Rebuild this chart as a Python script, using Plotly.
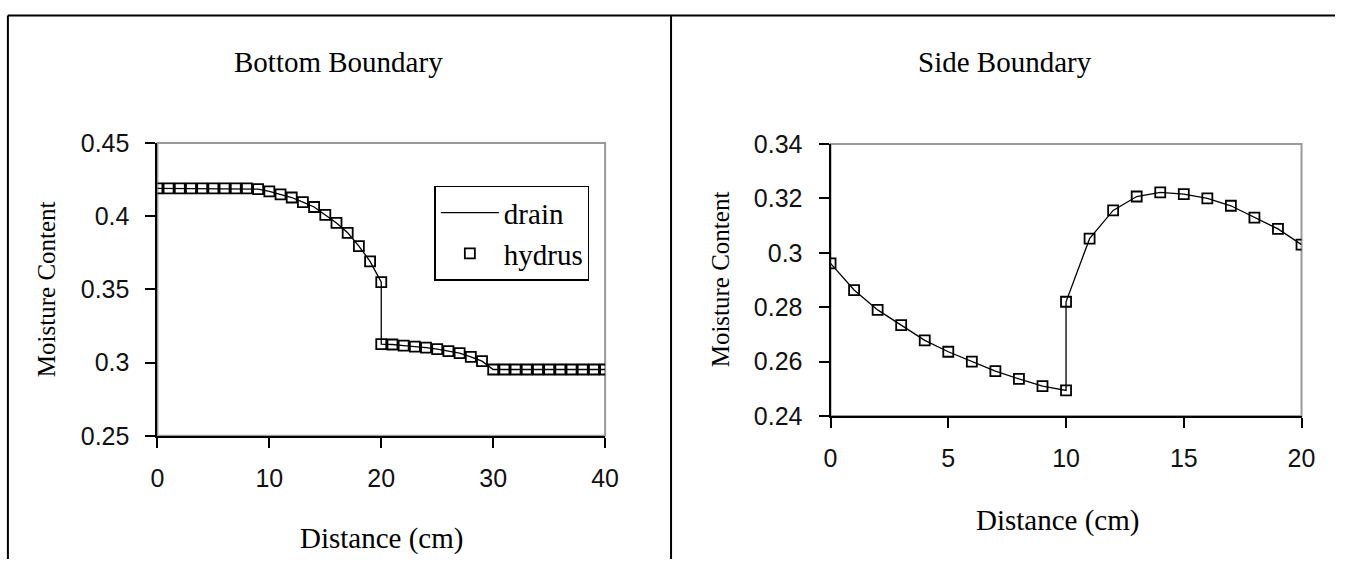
import plotly.graph_objects as go

# ---- data ----
bottom_x = [0, 1, 2, 3, 4, 5, 6, 7, 8, 9, 10, 11, 12, 13, 14, 15, 16, 17, 18, 19, 20,
            20, 21, 22, 23, 24, 25, 26, 27, 28, 29, 30, 31, 32, 33, 34, 35, 36, 37, 38, 39, 40]
bottom_y = [0.419, 0.419, 0.419, 0.419, 0.419, 0.419, 0.419, 0.419, 0.419, 0.4185, 0.417,
            0.415, 0.4128, 0.4097, 0.4063, 0.4009, 0.3954, 0.3887, 0.3796, 0.3692, 0.355,
            0.3126, 0.3124, 0.3116, 0.311, 0.3103, 0.3092, 0.3078, 0.3065, 0.304, 0.301,
            0.2953, 0.2953, 0.2953, 0.2953, 0.2953, 0.2953, 0.2953, 0.2953, 0.2953, 0.2953, 0.2953]

side_x = [0, 1, 2, 3, 4, 5, 6, 7, 8, 9, 10, 10, 11, 12, 13, 14, 15, 16, 17, 18, 19, 20]
side_y = [0.2961, 0.2863, 0.279, 0.2734, 0.2678, 0.2636, 0.26, 0.2565, 0.2536, 0.251, 0.2494,
          0.282, 0.3052, 0.3156, 0.3207, 0.3222, 0.3216, 0.32, 0.3173, 0.3129, 0.3088, 0.303]

left_xticks = [0, 10, 20, 30, 40]
right_xticks = [0, 5, 10, 15, 20]

W, H = 1349, 573
SERIF = "Liberation Serif, Times New Roman, serif"
SANS = "Liberation Sans, Arial, sans-serif"

# mapping from target picture pixels to figure pixels (compensates the capture framing)
AX, BX = 0.9857, 6.1
AY, BY = 0.956, 13.3


def fx(p):
    return (p - BX) / AX


def fy(p):
    return (p - BY) / AY


def px_x(p):
    return fx(p) / W


def px_y(p):
    return 1 - fy(p) / H


fig = go.Figure()

marker = dict(symbol="square-open", size=10, color="black", line=dict(width=1.8, color="black"))

# hydrus markers (drawn first), drain line on top
fig.add_trace(go.Scatter(x=bottom_x, y=bottom_y, mode="markers", name="hydrus",
                         marker=marker, xaxis="x", yaxis="y", legendrank=2))
fig.add_trace(go.Scatter(x=bottom_x, y=bottom_y, mode="lines", name="drain",
                         line=dict(color="black", width=1.3), xaxis="x", yaxis="y", legendrank=1))
fig.add_trace(go.Scatter(x=side_x, y=side_y, mode="markers", name="hydrus", showlegend=False,
                         marker=marker, xaxis="x2", yaxis="y2"))
fig.add_trace(go.Scatter(x=side_x, y=side_y, mode="lines", name="drain", showlegend=False,
                         line=dict(color="black", width=1.3), xaxis="x2", yaxis="y2"))

axis_common = dict(showgrid=False, zeroline=False, showline=True, linecolor="black", linewidth=2,
                   ticks="outside", ticklen=10, tickwidth=2, tickcolor="black",
                   tickfont=dict(family=SANS, size=25, color="#111"))

fig.update_layout(
    width=W, height=H,
    margin=dict(l=0, r=0, t=0, b=0),
    paper_bgcolor="white", plot_bgcolor="white",
    showlegend=True,
    legend=dict(x=px_x(434), y=px_y(186), xanchor="left", yanchor="top",
                bordercolor="black", borderwidth=1.5, bgcolor="white",
                font=dict(family=SERIF, size=29, color="black"),
                tracegroupgap=0, itemwidth=58),
    xaxis=dict(domain=[px_x(156.7), px_x(605)], range=[0, 40], tickvals=left_xticks,
               anchor="y", ticklabelstandoff=9, **axis_common),
    yaxis=dict(domain=[px_y(437.3), px_y(143)], range=[0.25, 0.45], dtick=0.05,
               anchor="x", ticklabelstandoff=11, **axis_common),
    xaxis2=dict(domain=[px_x(830.7), px_x(1302.3)], range=[0, 20], tickvals=right_xticks,
                anchor="y2", ticklabelstandoff=9, **axis_common),
    yaxis2=dict(domain=[px_y(417.3), px_y(144)], range=[0.24, 0.34], dtick=0.02,
                anchor="x2", ticklabelstandoff=11, **axis_common),
)

shapes = []
# gray plot-area frames
for xr, yr in (("x domain", "y domain"), ("x2 domain", "y2 domain")):
    shapes.append(dict(type="rect", xref=xr, yref=yr, x0=0, x1=1, y0=0, y1=1,
                       line=dict(color="#9a9a9a", width=2), layer="below"))
# outer panel borders
top_y = 1 - 1.5 / H
shapes.append(dict(type="line", xref="paper", yref="paper", x0=px_x(7), x1=px_x(7),
                   y0=0, y1=top_y, line=dict(color="black", width=2)))
shapes.append(dict(type="line", xref="paper", yref="paper", x0=px_x(7), x1=1,
                   y0=top_y, y1=top_y, line=dict(color="black", width=2)))
shapes.append(dict(type="line", xref="paper", yref="paper", x0=px_x(671), x1=px_x(671),
                   y0=0, y1=top_y, line=dict(color="black", width=2)))
fig.update_layout(shapes=shapes)

ann = []


def text(x, y, s, size=29, angle=0):
    ann.append(dict(x=px_x(x), y=px_y(y), xref="paper", yref="paper", text=s, showarrow=False,
                    xanchor="center", yanchor="middle", textangle=angle,
                    font=dict(family=SERIF, size=size, color="black")))


text(338, 62, "Bottom Boundary")
text(1005, 62, "Side Boundary")
text(45, 290, "Moisture Content", size=25, angle=-90)
text(720, 280, "Moisture Content", size=25, angle=-90)
text(381, 540, "Distance (cm)")
text(1058, 522, "Distance (cm)")
fig.update_layout(annotations=ann)

fig.write_html("out.html", config={"displayModeBar": False},
               post_script="document.body.style.margin='0';document.body.style.overflow='hidden';")
